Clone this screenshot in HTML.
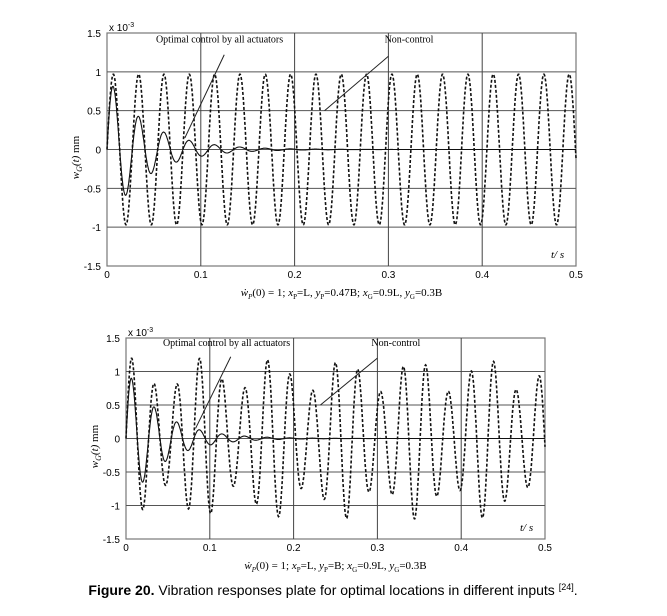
<!DOCTYPE html>
<html><head><meta charset="utf-8"><style>
body{margin:0;background:#fff;width:667px;height:611px;overflow:hidden}
svg text{font-family:"Liberation Sans",sans-serif}
.s{font-family:"Liberation Serif",serif}
</style></head><body>
<svg id="sv" width="667" height="611" xmlns="http://www.w3.org/2000/svg">
<g id="c1"></g><g id="c2"></g>
<text x="333" y="595" text-anchor="middle" font-size="14" fill="#000"><tspan font-weight="bold">Figure 20.</tspan> Vibration responses plate for optimal locations in different inputs <tspan font-size="9" dy="-5">[24]</tspan><tspan dy="5">.</tspan></text>
</svg>
<script>
function chart(g,x0,x1,y15,yn15,opts){
  var h="";
  var X=t=>x0+(x1-x0)*t/0.5, Y=v=>(y15+yn15)/2-(yn15-y15)/3*v;
  h+=`<rect x="${x0}" y="${y15}" width="${x1-x0}" height="${yn15-y15}" fill="none" stroke="#777" stroke-width="1.2"/>`;
  [1,0.5,0,-0.5,-1].forEach(v=>{h+=`<line x1="${x0}" x2="${x1}" y1="${Y(v)}" y2="${Y(v)}" stroke="#555" stroke-width="1"/>`;});
  [0.1,0.2,0.3,0.4].forEach(t=>{h+=`<line x1="${X(t)}" x2="${X(t)}" y1="${y15}" y2="${yn15}" stroke="#444" stroke-width="1"/>`;});
  [1.5,1,0.5,0,-0.5,-1,-1.5].forEach(v=>{h+=`<text x="${x0-6}" y="${Y(v)+4}" text-anchor="end" font-size="10">${v}</text>`;});
  [0,0.1,0.2,0.3,0.4,0.5].forEach(t=>{h+=`<text x="${X(t)}" y="${yn15+12}" text-anchor="middle" font-size="10">${t}</text>`;});
  h+=`<text x="${x0+2}" y="${y15-2}" font-size="10">x 10<tspan font-size="7" dy="-4">-3</tspan></text>`;
  h+=`<text class="s" x="${x1-25}" y="${yn15-8}" font-size="11" font-style="italic">t/ s</text>`;
  var ym=(y15+yn15)/2;
  h+=`<text class="s" transform="translate(${x0-28},${ym+8}) rotate(-90)" text-anchor="middle" font-size="11"><tspan font-style="italic">w<tspan font-size="8" dy="3">G</tspan><tspan dy="-3">(t)</tspan></tspan>     mm</text>`;
  h+=`<text class="s" x="${(x0+x1)/2}" y="${yn15+30}" text-anchor="middle" font-size="11"><tspan font-style="italic">ẇ<tspan font-size="7" dy="3">P</tspan></tspan><tspan dy="-3">(0) = 1; </tspan><tspan font-style="italic">x</tspan><tspan font-size="7" dy="3">P</tspan><tspan dy="-3">=L, </tspan><tspan font-style="italic">y</tspan><tspan font-size="7" dy="3">P</tspan><tspan dy="-3">=${opts.yp}; </tspan><tspan font-style="italic">x</tspan><tspan font-size="7" dy="3">G</tspan><tspan dy="-3">=0.9L, </tspan><tspan font-style="italic">y</tspan><tspan font-size="7" dy="3">G</tspan><tspan dy="-3">=0.3B</tspan></text>`;
  var T=opts.T,p1="",p2="";
  for(var i=0;i<=1000;i++){var t=0.5*i/1000;
    var a=opts.amp(t), v=a*Math.sin(2*Math.PI*t/T);
    p1+=(i?"L":"M")+X(t).toFixed(1)+","+Y(v).toFixed(1);
    var c=opts.c0*Math.exp(-t/opts.tau)*Math.sin(2*Math.PI*t/T);
    p2+=(i?"L":"M")+X(t).toFixed(1)+","+Y(c).toFixed(1);}
  h+=`<path d="${p1}" fill="none" stroke="#111" stroke-width="1.6" stroke-dasharray="3,2"/>`;
  h+=`<path d="${p2}" fill="none" stroke="#111" stroke-width="1.1"/>`;
  h+=`<line x1="${X(0.083)}" y1="${Y(0.15)}" x2="${X(0.125)}" y2="${Y(1.22)}" stroke="#222"/>`;
  h+=`<line x1="${X(0.232)}" y1="${Y(0.5)}" x2="${X(0.3)}" y2="${Y(1.2)}" stroke="#222"/>`;
  h+=`<text class="s" x="${X(0.12)}" y="${Y(1.38)}" text-anchor="middle" font-size="10">Optimal control by all actuators</text>`;
  h+=`<text class="s" x="${X(0.322)}" y="${Y(1.38)}" text-anchor="middle" font-size="10">Non-control</text>`;
  g.innerHTML=h;
}
chart(document.getElementById("c1"),107,576,33,266,{T:0.027,yp:"0.47B",amp:t=>0.97,c0:0.95,tau:0.042});
chart(document.getElementById("c2"),126,545,338,539,{T:0.027,yp:"B",amp:t=>0.95+0.25*Math.sin(2*Math.PI*t/0.085+1.2),c0:1.05,tau:0.042});
</script>
</body></html>
